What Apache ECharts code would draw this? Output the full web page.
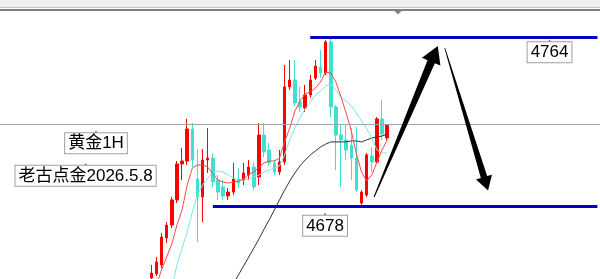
<!DOCTYPE html>
<html><head><meta charset="utf-8">
<script src="https://cdn.jsdelivr.net/npm/echarts/dist/echarts.min.js"></script>
<style>html,body{margin:0;padding:0;background:#fff;overflow:hidden}#c{width:600px;height:279px}</style>
</head><body><div id="c"></div>
<script>
// ---- data (XAUUSD 1H) ----
const candleOpen  = [4641.4,4643.4,4648.0,4661.7,4668.3,4681.1,4699.4,4700.9,4717.2,4691.7,4682.6,4701.4,4702.4,4691.2,4687.7,4683.1,4685.1,4691.7,4691.2,4693.8,4697.8,4692.8,4714.1,4706.5,4699.9,4695.3,4700.4,4738.6,4742.1,4730.9,4727.9,4734.5,4743.1,4748.7,4745.7,4761.5,4728.4,4714.1,4711.6,4709.0,4702.4,4679.5,4683.6,4703.4,4700.4,4722.3,4712.6];
const candleClose = [4643.9,4649.5,4662.2,4668.3,4681.1,4699.4,4700.9,4717.2,4701.4,4682.6,4701.4,4702.4,4690.2,4685.1,4683.1,4685.1,4691.7,4689.7,4694.8,4697.8,4687.7,4714.1,4705.5,4699.9,4695.3,4700.4,4738.6,4742.1,4730.4,4728.4,4734.5,4742.1,4749.2,4745.7,4761.5,4728.4,4714.1,4711.6,4706.5,4702.4,4686.1,4685.1,4704.0,4700.4,4722.3,4714.6,4719.2];
const candleLow   = [4639.8,4642.4,4646.4,4659.2,4666.8,4679.5,4691.2,4698.9,4697.8,4659.7,4669.9,4694.8,4687.7,4681.1,4681.1,4681.1,4683.6,4687.2,4688.7,4691.2,4686.1,4688.7,4702.9,4698.4,4693.8,4693.8,4698.9,4737.0,4728.9,4725.8,4725.8,4733.0,4742.1,4743.1,4744.7,4723.3,4696.3,4687.7,4701.4,4691.2,4685.1,4678.0,4682.6,4695.3,4699.4,4711.6,4711.6];
const candleHigh  = [4648.0,4652.0,4664.3,4669.9,4682.6,4700.9,4707.5,4722.3,4720.2,4707.0,4707.0,4717.7,4705.0,4693.8,4691.2,4687.2,4699.9,4697.3,4699.9,4701.4,4700.4,4720.2,4720.2,4710.1,4701.4,4706.5,4749.8,4752.3,4752.3,4738.6,4739.6,4744.7,4752.3,4757.4,4762.5,4764.0,4729.4,4719.2,4719.2,4717.7,4718.2,4686.1,4705.0,4708.0,4723.3,4731.9,4719.2];
const maFast = [4634.2,4637.8,4645.4,4652.0,4658.7,4668.3,4676.0,4688.7,4697.3,4698.9,4698.9,4697.8,4694.3,4691.2,4690.2,4689.7,4690.2,4690.7,4691.7,4694.3,4695.3,4697.8,4699.9,4700.9,4700.9,4702.4,4710.6,4717.7,4726.3,4731.4,4735.0,4736.0,4738.0,4741.1,4746.2,4745.7,4741.1,4733.5,4725.3,4716.2,4704.5,4695.3,4690.7,4693.8,4700.4,4706.5,4711.6];
const maMid  = [4614.9,4620.0,4625.1,4630.2,4636.3,4648.0,4656.6,4664.8,4674.9,4683.6,4688.7,4692.2,4694.8,4695.8,4695.3,4693.8,4692.2,4691.2,4691.2,4691.7,4692.8,4693.8,4695.3,4696.3,4697.3,4698.4,4703.9,4711.6,4717.7,4722.8,4727.4,4730.9,4734.5,4736.5,4739.1,4740.1,4737.0,4733.0,4731.4,4728.9,4725.3,4721.3,4717.2,4712.6,4706.5,4705.0,4705.0];
const maSlow = [null,null,null,null,null,null,null,null,null,null,null,null,4620.0,4624.6,4629.1,4634.2,4638.8,4642.9,4647.5,4652.0,4656.6,4661.2,4666.3,4670.9,4676.0,4681.1,4686.1,4690.7,4694.8,4698.4,4701.4,4703.9,4706.0,4708.0,4709.5,4710.6,4710.6,4710.6,4710.6,4711.1,4711.1,4710.6,4711.6,4712.6,4713.1,4713.6,4714.6];
const levelPrices = [4764, 4678];      // blue horizontal levels
const levelStartSlot = [60, 41];       // slot where each level line starts
const bidPrice = 4719.7;               // grey current-price line
const levelLabels = ['4764', '4678'];
const titleTexts = ['黄金1H', '老古点金2026.5.8'];

// ---- layout constants ----
const N_SLOTS = 117, FIRST_SLOT = 29, LAST_SLOT = 116;
const Y_MIN = 4640.85, Y_MAX = 4776.72;

const slots = [];
for (let i = 0; i < N_SLOTS; i++) slots.push('s' + i);
const EMPTY = ['-', '-', '-', '-'];
const ohlc = slots.map(() => EMPTY);
candleOpen.forEach((o, i) => { ohlc[FIRST_SLOT + i] = [o, candleClose[i], candleLow[i], candleHigh[i]]; });
function pad(arr) {
  const out = slots.map(() => '-');
  arr.forEach((v, i) => { out[FIRST_SLOT + i] = (v == null ? '-' : v); });
  return out;
}

const chart = echarts.init(document.getElementById('c'), null, {renderer: 'canvas'});
const lineBase = {type: 'line', symbol: 'none', smooth: false, clip: true, silent: true, connectNulls: false};
chart.setOption({
  animation: false,
  backgroundColor: '#ffffff',
  grid: {left: 0, right: -3, top: 12, bottom: 0},
  xAxis: {type: 'category', data: slots, boundaryGap: true, show: false},
  yAxis: {type: 'value', min: Y_MIN, max: Y_MAX, show: false},
  series: [
    {type: 'line', data: [], z: 1, silent: true,
     markLine: {silent: true, symbol: ['none', 'none'], label: {show: false}, animation: false,
       lineStyle: {color: '#9ea4b0', width: 1, type: 'solid'},
       data: [{yAxis: bidPrice}]}},
    {type: 'candlestick', data: ohlc, barWidth: 3, clip: true, z: 2, silent: true,
     itemStyle: {color: '#ff0000', color0: '#40e0d0', borderColor: '#ff0000', borderColor0: '#40e0d0', borderWidth: 1}},
    Object.assign({}, lineBase, {data: pad(maSlow), z: 3, lineStyle: {color: '#333333', width: 1}}),
    Object.assign({}, lineBase, {data: pad(maMid), z: 3, lineStyle: {color: '#7fe6dc', width: 1}}),
    Object.assign({}, lineBase, {data: pad(maFast), z: 4, lineStyle: {color: '#f24a4a', width: 1}}),
    {type: 'line', data: [], z: 5, silent: true,
     markLine: {silent: true, symbol: ['none', 'none'], label: {show: false}, animation: false,
       lineStyle: {color: '#0000c8', width: 3, type: 'solid'},
       data: levelPrices.map((p, k) => [{coord: [levelStartSlot[k], p]}, {coord: [LAST_SLOT, p]}])}}
  ]
});

// ---- annotations anchored in data space (slot index, price) ----
const annotTitle = [[18.22, 4715.8], [16.19, 4699.2]];
const annotLevel = [[106.66, 4762.1], [62.89, 4673.8]];
const arrowUp   = {tail: [72.45, 4682.6], tip: [84.87, 4759.4], w0: 0.5, w1: 4, head: 17, half: 10};
const arrowDown = {tail: [86.23, 4758.4], tip: [94.67, 4685.9], w0: 0.4, w1: 3.3, head: 14, half: 8.3};

function toPx(idx, price) {
  const i0 = Math.floor(idx);
  const a = chart.convertToPixel({gridIndex: 0}, [i0, price]);
  const b = chart.convertToPixel({gridIndex: 0}, [i0 + 1, price]);
  return [a[0] + (idx - i0) * (b[0] - a[0]), a[1]];
}
function arrowPoly(spec) {
  const t = toPx(spec.tail[0], spec.tail[1]);
  const h = toPx(spec.tip[0], spec.tip[1]);
  const dx = h[0] - t[0], dy = h[1] - t[1], L = Math.hypot(dx, dy);
  const ux = dx / L, uy = dy / L, nx = -uy, ny = ux;
  const bx = h[0] - ux * spec.head, by = h[1] - uy * spec.head;
  return [
    [t[0] + nx * spec.w0, t[1] + ny * spec.w0],
    [bx + nx * spec.w1, by + ny * spec.w1],
    [bx + nx * spec.half, by + ny * spec.half],
    [h[0], h[1]],
    [bx - nx * spec.half, by - ny * spec.half],
    [bx - nx * spec.w1, by - ny * spec.w1],
    [t[0] - nx * spec.w0, t[1] - ny * spec.w0]
  ];
}
const FONT = '17px "Liberation Sans", "Noto Sans CJK SC", sans-serif';
function labelBox(text, anchor) {
  const p = toPx(anchor[0], anchor[1]);
  return [
    {type: 'text', x: p[0], y: p[1] + 1.5, z: 20, silent: true,
     style: {text: text, font: FONT, fill: '#000', align: 'center', verticalAlign: 'top',
             backgroundColor: '#ffffff', borderColor: '#a89e96', borderWidth: 1, padding: [2, 3, 1, 3]}},
    {type: 'circle', shape: {cx: p[0], cy: p[1], r: 0.9}, z: 21, silent: true, style: {fill: '#707070'}}
  ];
}

const graphics = [
  {type: 'rect', shape: {x: 0, y: 0, width: 600, height: 7.5}, z: 30, silent: true, style: {fill: '#f0f0f0'}},
  {type: 'line', shape: {x1: 0, y1: 7.5, x2: 600, y2: 7.5}, z: 30, silent: true, style: {stroke: '#c4c4c4', lineWidth: 1}},
  {type: 'line', shape: {x1: 0, y1: 10, x2: 600, y2: 10}, z: 30, silent: true, style: {stroke: '#555555', lineWidth: 1.5}},
  {type: 'polygon', shape: {points: [[394.5, 11], [401.5, 11], [398, 14.5]]}, z: 30, silent: true, style: {fill: '#7384a0'}},
  {type: 'polygon', shape: {points: arrowPoly(arrowUp)}, z: 15, silent: true, style: {fill: '#000'}},
  {type: 'polygon', shape: {points: arrowPoly(arrowDown)}, z: 15, silent: true, style: {fill: '#000'}}
];
titleTexts.forEach((t, k) => graphics.push(...labelBox(t, annotTitle[k])));
levelLabels.forEach((t, k) => graphics.push(...labelBox(t, annotLevel[k])));
chart.setOption({graphic: graphics});
</script>
</body></html>
